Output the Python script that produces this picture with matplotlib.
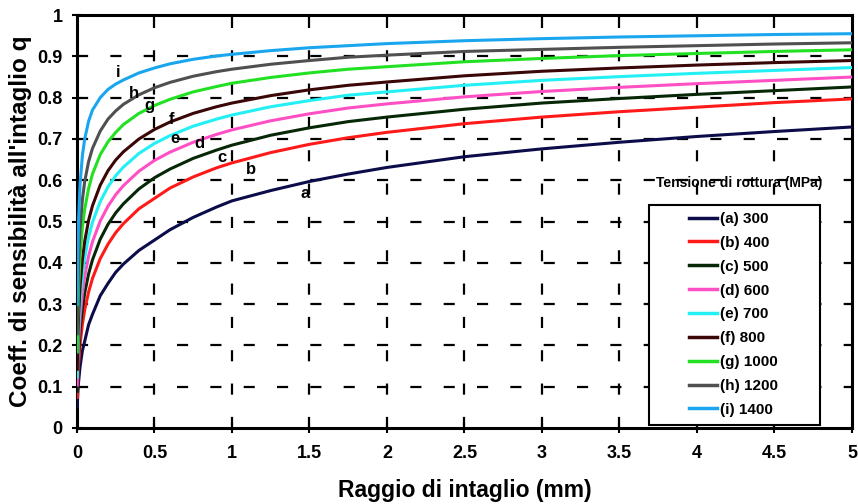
import matplotlib
matplotlib.use("Agg")
import matplotlib.pyplot as plt
from matplotlib.patches import Rectangle

plt.rcParams['font.family'] = ['Liberation Sans', 'DejaVu Sans']
plt.rcParams['font.weight'] = 'bold'

# raggio di intaglio (mm)
raggio = [0.002, 0.005, 0.01, 0.02, 0.035, 0.05, 0.075, 0.1, 0.15, 0.2, 0.25, 0.3, 0.4, 0.5,
          0.6, 0.75, 0.9, 1, 1.25, 1.5, 1.75, 2, 2.5, 3, 3.5, 4, 4.5, 5]

# coefficiente q, una curva per tensione di rottura
q_a = [0.052, 0.08, 0.11, 0.148, 0.187, 0.21, 0.25, 0.275, 0.32, 0.35, 0.377, 0.397, 0.43, 0.455,
       0.48, 0.51, 0.535, 0.55, 0.575, 0.597, 0.615, 0.631, 0.657, 0.676, 0.692, 0.706, 0.718, 0.729]
q_b = [0.074, 0.112, 0.152, 0.202, 0.251, 0.286, 0.329, 0.362, 0.41, 0.445, 0.473, 0.495, 0.531, 0.556,
       0.581, 0.608, 0.63, 0.642, 0.667, 0.687, 0.703, 0.716, 0.737, 0.753, 0.766, 0.777, 0.788, 0.797]
q_c = [0.089, 0.133, 0.179, 0.235, 0.289, 0.327, 0.373, 0.407, 0.457, 0.493, 0.521, 0.543, 0.579, 0.606,
       0.627, 0.653, 0.673, 0.685, 0.709, 0.727, 0.742, 0.753, 0.772, 0.787, 0.798, 0.808, 0.817, 0.826]
q_d = [0.104, 0.155, 0.206, 0.269, 0.327, 0.367, 0.416, 0.451, 0.501, 0.537, 0.565, 0.587, 0.622, 0.648,
       0.668, 0.692, 0.711, 0.722, 0.744, 0.761, 0.775, 0.785, 0.802, 0.815, 0.825, 0.834, 0.842, 0.85]
q_e = [0.123, 0.181, 0.239, 0.307, 0.37, 0.412, 0.462, 0.498, 0.548, 0.584, 0.611, 0.632, 0.665, 0.689,
       0.708, 0.731, 0.748, 0.758, 0.778, 0.793, 0.806, 0.814, 0.83, 0.842, 0.851, 0.859, 0.866, 0.873]
q_f = [0.142, 0.207, 0.27, 0.343, 0.408, 0.452, 0.503, 0.538, 0.588, 0.623, 0.649, 0.669, 0.7, 0.723,
       0.741, 0.762, 0.778, 0.787, 0.805, 0.819, 0.83, 0.838, 0.853, 0.864, 0.872, 0.879, 0.885, 0.89]
q_g = [0.184, 0.263, 0.336, 0.417, 0.486, 0.53, 0.58, 0.615, 0.662, 0.693, 0.716, 0.735, 0.762, 0.781,
       0.796, 0.814, 0.827, 0.835, 0.849, 0.86, 0.869, 0.875, 0.887, 0.895, 0.902, 0.907, 0.912, 0.916]
q_h = [0.228, 0.319, 0.398, 0.484, 0.553, 0.597, 0.645, 0.677, 0.719, 0.748, 0.768, 0.784, 0.807, 0.824,
       0.837, 0.852, 0.863, 0.869, 0.881, 0.89, 0.898, 0.903, 0.912, 0.917, 0.922, 0.926, 0.93, 0.933]
q_i = [0.299, 0.41, 0.5, 0.59, 0.66, 0.7, 0.743, 0.77, 0.8, 0.82, 0.833, 0.843, 0.86, 0.872,
       0.882, 0.893, 0.901, 0.905, 0.914, 0.921, 0.926, 0.931, 0.938, 0.943, 0.947, 0.95, 0.953, 0.955]

curve_q = [q_a, q_b, q_c, q_d, q_e, q_f, q_g, q_h, q_i]
lettere = ['a', 'b', 'c', 'd', 'e', 'f', 'g', 'h', 'i']
tensioni = [300, 400, 500, 600, 700, 800, 1000, 1200, 1400]
colori = ['#0c0c4a', '#ff1a1a', '#062806', '#ff4fc4', '#22f0f4', '#3a0606', '#22e022', '#505050', '#1aa6ee']

# posizione delle lettere sulle curve
lett_x = [1.47, 1.12, 0.935, 0.79, 0.63, 0.61, 0.47, 0.37, 0.265]
lett_y = [0.569, 0.625, 0.656, 0.69, 0.702, 0.746, 0.78, 0.811, 0.862]

x_ticks = [0, 0.5, 1, 1.5, 2, 2.5, 3, 3.5, 4, 4.5, 5]
y_ticks = [0, 0.1, 0.2, 0.3, 0.4, 0.5, 0.6, 0.7, 0.8, 0.9, 1]

fig = plt.figure(figsize=(8.58, 5.04), dpi=100)
ax = fig.add_axes([0.0897, 0.151, 0.9033, 0.819])

for q, lett, t, col in zip(curve_q, lettere, tensioni, colori):
    ax.plot(raggio, q, color=col, lw=2.2, label=f"({lett}) {t}", zorder=3)

for lx, ly, lett in zip(lett_x, lett_y, lettere):
    ax.text(lx, ly, lett, fontsize=12, fontweight='bold', ha='center', va='center', zorder=4)

ax.set_xlim(0, 5)
ax.set_ylim(0, 1)
ax.set_xticks(x_ticks)
ax.set_yticks(y_ticks)
ax.set_xticklabels([f"{v:g}" for v in x_ticks])
ax.set_yticklabels([f"{v:g}" for v in y_ticks])
ax.tick_params(direction='inout', length=7, width=1.5, labelsize=13)
ax.tick_params(axis='x', pad=9)
ax.tick_params(axis='y', pad=7)

# griglia tratteggiata
for xv in x_ticks[1:-1]:
    ax.axvline(xv, color='black', lw=1.6, dashes=(5, 10), zorder=1)
for yv in y_ticks[1:-1]:
    ax.axhline(yv, color='black', lw=1.6, dashes=(5, 10), zorder=1)

for s in ax.spines.values():
    s.set_linewidth(2.2)

ax.set_xlabel("Raggio di intaglio (mm)", fontsize=16.5, fontweight='bold', labelpad=12)
ax.set_ylabel("Coeff. di sensibilità all'intaglio q", fontsize=17.5, fontweight='bold', labelpad=4)

# legenda con riquadro separato e titolo sopra
ax.add_patch(Rectangle((0.738, 0.007), 0.221, 0.533, transform=ax.transAxes,
                       facecolor='white', edgecolor='black', lw=1.5, zorder=5))
ax.text(0.854, 0.593, "Tensione di rottura (MPa)", transform=ax.transAxes,
        fontsize=10, fontweight='bold', ha='center', va='center', zorder=6)
leg = ax.legend(loc='center', bbox_to_anchor=(0.847, 0.275), frameon=False,
                fontsize=11, labelspacing=0.645, handlelength=1.85, handletextpad=0.15)
leg.set_zorder(6)
for line in leg.get_lines():
    line.set_linewidth(2.5)

fig.savefig("out.png", dpi=100)
